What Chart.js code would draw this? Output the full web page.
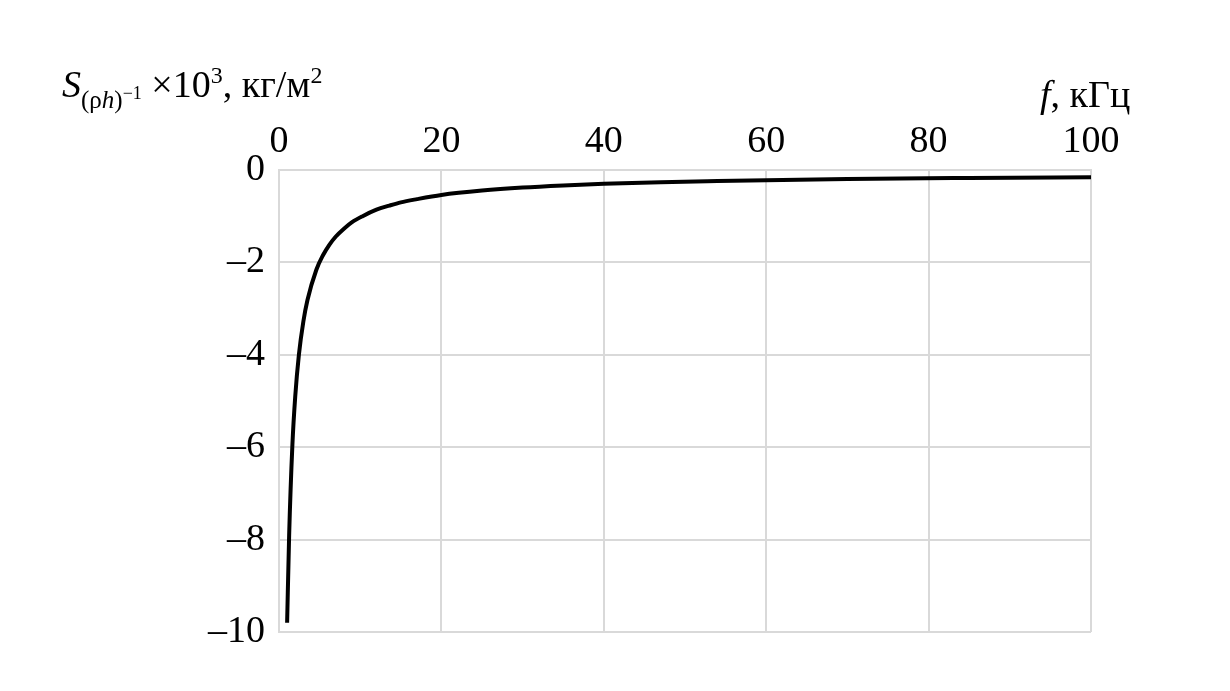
<!DOCTYPE html>
<html>
<head>
<meta charset="utf-8">
<script src="https://cdn.jsdelivr.net/npm/chart.js@4"></script>
<style>
  html, body { margin: 0; padding: 0; background: #fff; }
  #wrap { position: relative; width: 1230px; height: 691px; }
  .title { position: absolute; font-family: "Liberation Serif", "Times New Roman", serif; font-size: 38px; color: #000; white-space: nowrap; line-height: 1; }
  .title sub { font-size: 25px; vertical-align: -11px; }
  .title sub span { font-size: 18px; vertical-align: 9px; }
  .title sup { font-size: 24px; vertical-align: 14px; }
</style>
</head>
<body>
<div id="wrap">
  <canvas id="chart" width="1230" height="691"></canvas>
  <div class="title" id="ytitle" style="left:62px; top:63px;"><i>S</i><sub>(ρ<i>h</i>)<span>−1</span></sub> ×10<sup>3</sup>, кг/м<sup>2</sup></div>
  <div class="title" id="xtitle" style="left:1040px; top:75px;"><i>f</i>, кГц</div>
</div>
<script>
// Frequency, kHz
const freq = [1.0, 1.25, 1.65, 2.0, 2.45, 3.0, 3.5, 4.6, 5.4, 6.2, 7.0, 8.0, 9.0, 10.3, 12, 13.6, 15, 17, 20, 25, 30, 35, 40, 47, 54, 62, 70, 85, 100];
// S values (x10^3)
const sValues = [-9.8, -7.9, -5.95, -4.9, -4.0, -3.28, -2.82, -2.16, -1.85, -1.62, -1.44, -1.27, -1.13, -1.0, -0.86, -0.77, -0.70, -0.63, -0.54, -0.445, -0.38, -0.335, -0.3, -0.265, -0.24, -0.215, -0.195, -0.172, -0.155];

const xTicks = [0, 20, 40, 60, 80, 100];
const yTicks = [0, -2, -4, -6, -8, -10];

const points = freq.map((f, i) => ({ x: f, y: sValues[i] }));
const gridColor = '#d9d9d9';
const tickFont = { family: '"Liberation Serif", "Times New Roman", serif', size: 38 };

new Chart(document.getElementById('chart').getContext('2d'), {
  type: 'scatter',
  data: {
    datasets: [{
      data: points,
      showLine: true,
      borderColor: '#000',
      borderWidth: 4,
      pointRadius: 0,
      cubicInterpolationMode: 'monotone'
    }]
  },
  options: {
    responsive: false,
    animation: false,
    layout: { padding: { left: 0, top: 0, right: 139, bottom: 59 } },
    plugins: { legend: { display: false }, tooltip: { enabled: false } },
    scales: {
      x: {
        type: 'linear',
        position: 'top',
        min: 0,
        max: 100,
        afterBuildTicks: (scale) => { scale.ticks = xTicks.map(v => ({ value: v })); },
        afterFit: (scale) => { scale.height = 170; },
        grid: { color: gridColor, lineWidth: 2, drawTicks: false },
        border: { color: gridColor, width: 2 },
        ticks: { color: '#000', font: tickFont, padding: 5, maxRotation: 0 }
      },
      y: {
        type: 'linear',
        min: -10,
        max: 0,
        afterBuildTicks: (scale) => { scale.ticks = yTicks.map(v => ({ value: v })); },
        afterFit: (scale) => { scale.width = 279; },
        grid: { color: gridColor, lineWidth: 2, drawTicks: false },
        border: { color: gridColor, width: 2 },
        ticks: {
          color: '#000',
          font: tickFont,
          padding: 14,
          callback: (v) => String(v).replace('-', '–')
        }
      }
    }
  }
});
</script>
</body>
</html>
